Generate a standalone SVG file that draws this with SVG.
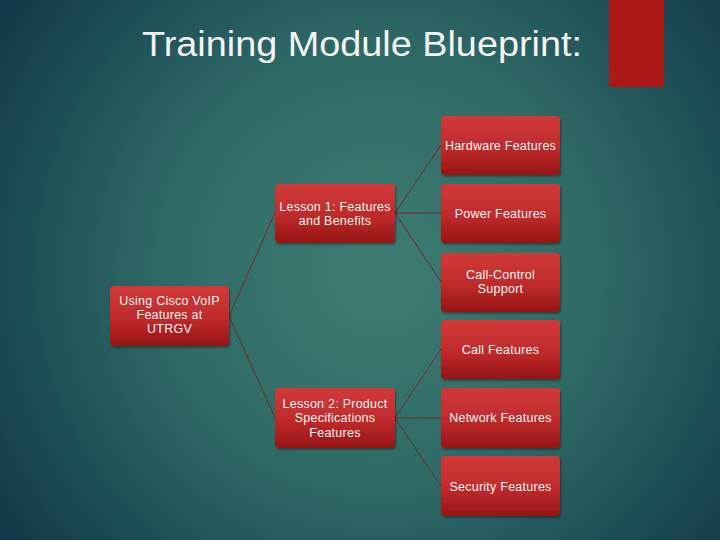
<svg xmlns="http://www.w3.org/2000/svg" width="720" height="540" viewBox="0 0 720 540">
<defs>
<radialGradient id="bg" cx="380" cy="270" r="480" gradientUnits="userSpaceOnUse">
<stop offset="0" stop-color="#3f7d72"/>
<stop offset="0.45" stop-color="#2f6a66"/>
<stop offset="1" stop-color="#0f3446"/>
</radialGradient>
<linearGradient id="box" x1="0" y1="0" x2="0" y2="1">
<stop offset="0" stop-color="#d13a3a"/>
<stop offset="0.55" stop-color="#bf2a2b"/>
<stop offset="1" stop-color="#961516"/>
</linearGradient>
<filter id="sh" x="-10%" y="-10%" width="130%" height="130%">
<feDropShadow dx="1" dy="1.5" stdDeviation="1.2" flood-color="#000" flood-opacity="0.4"/>
</filter>
</defs>
<style>
.n rect{fill:url(#box);filter:url(#sh)}
.n text{fill:#f8f4f4;font-family:"Liberation Sans",Arial,sans-serif;font-size:12.5px;letter-spacing:0.25px;text-anchor:middle}
.c line{stroke:#6e2a2c;stroke-width:1}
</style>
<rect width="720" height="540" fill="url(#bg)"/>
<rect x="609" y="0" width="55" height="87" fill="#ac1818"/>
<text x="142" y="56" font-family="Liberation Sans,Arial,sans-serif" font-size="35.5" fill="#f2f4f4" textLength="440" lengthAdjust="spacingAndGlyphs">Training Module Blueprint:</text>
<g class="c">
<line x1="229" y1="316" x2="275" y2="213"/>
<line x1="229" y1="316" x2="275" y2="418"/>
<line x1="395" y1="213" x2="441" y2="145"/>
<line x1="395" y1="213" x2="441" y2="213"/>
<line x1="395" y1="213" x2="441" y2="282"/>
<line x1="395" y1="418" x2="441" y2="349"/>
<line x1="395" y1="418" x2="441" y2="418"/>
<line x1="395" y1="418" x2="441" y2="486"/>
</g>
<g id="root" class="n"><rect x="110" y="286" width="119" height="60" rx="4"/><text x="169.5" y="305">Using Cisco VoIP</text><text x="169.5" y="319">Features at</text><text x="169.5" y="333">UTRGV</text></g>
<g id="lesson1" class="n"><rect x="275" y="184" width="120" height="59" rx="4"/><text x="335" y="211">Lesson 1: Features</text><text x="335" y="225">and Benefits</text></g>
<g id="lesson2" class="n"><rect x="275" y="388" width="120" height="60" rx="4"/><text x="335" y="408">Lesson 2: Product</text><text x="335" y="422">Specifications</text><text x="335" y="437">Features</text></g>
<g id="hardware" class="n"><rect x="441" y="116" width="119" height="59" rx="4"/><text x="500.5" y="150">Hardware Features</text></g>
<g id="power" class="n"><rect x="441" y="184" width="119" height="59" rx="4"/><text x="500.5" y="218">Power Features</text></g>
<g id="callcontrol" class="n"><rect x="441" y="253" width="119" height="59" rx="4"/><text x="500.5" y="279">Call-Control</text><text x="500.5" y="293">Support</text></g>
<g id="callfeatures" class="n"><rect x="441" y="320" width="119" height="59" rx="4"/><text x="500.5" y="354">Call Features</text></g>
<g id="network" class="n"><rect x="441" y="388" width="119" height="60" rx="4"/><text x="500.5" y="422">Network Features</text></g>
<g id="security" class="n"><rect x="441" y="456" width="119" height="60" rx="4"/><text x="500.5" y="491">Security Features</text></g>
</svg>
